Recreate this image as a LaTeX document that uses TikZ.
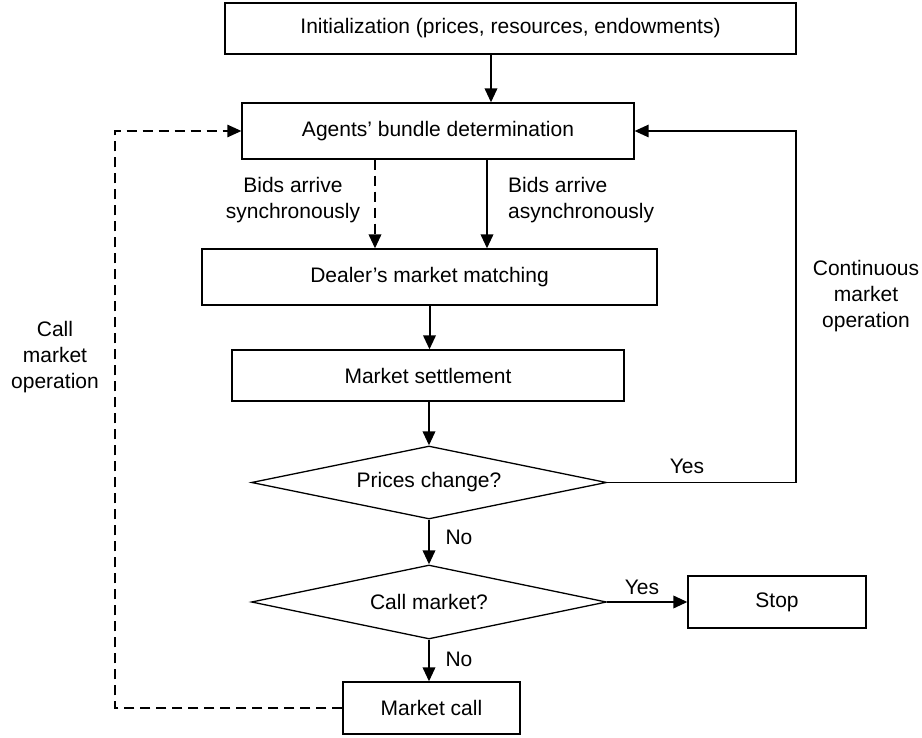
\documentclass[tikz,border=0pt]{standalone}
\usepackage{fontspec}
\setmainfont{Liberation Sans}
\usetikzlibrary{shapes.geometric,arrows.meta}
\begin{document}
\begin{tikzpicture}[x=1pt,y=-1pt,
  font=\fontsize{21}{26}\selectfont,
  box/.style={draw,line width=1.3pt,rectangle,inner sep=0pt},
  dec/.style={draw,line width=1.3pt,diamond,inner sep=0pt,aspect=4.8},
  arr/.style={line width=2pt,-{Triangle[length=14pt,width=12.5pt]}},
  thinarr/.style={line width=1.4pt,-{Triangle[length=14pt,width=12.5pt]}},
  dasharr/.style={line width=2pt,dash pattern=on 10pt off 6pt,-{Triangle[length=14pt,width=12.5pt]}},
  thindasharr/.style={line width=1.3pt,dash pattern=on 10pt off 6pt,-{Triangle[length=14pt,width=12.5pt]}},
  lbl/.style={inner sep=0pt,align=center}]
\useasboundingbox (0,0) rectangle (922,738);
\node[box,minimum width=571pt,minimum height=51pt] (init) at (510.5,28.5) {Initialization (prices, resources, endowments)};
\node[box,minimum width=392pt,minimum height=56pt] (agents) at (438,131) {Agents’ bundle determination};
\node[box,minimum width=455pt,minimum height=56pt] (dealer) at (429.5,277) {Dealer’s market matching};
\node[box,minimum width=392pt,minimum height=51pt] (settle) at (428,375.5) {Market settlement};
\node[dec,minimum width=355pt,minimum height=73pt] (prices) at (429,482.5) {Prices change?};
\node[dec,minimum width=355pt,minimum height=74pt] (call) at (429,602) {Call market?};
\node[box,minimum width=178pt,minimum height=52pt] (stop) at (777,602) {Stop};
\node[box,minimum width=177pt,minimum height=52pt] (mcall) at (431.5,708) {Market call};
\coordinate (cright) at (796,131);
\coordinate (cleft) at (115,131);
% arrows
\draw[arr] ([xshift=-19.5pt]init.south) -- ([xshift=-19.5pt]init.south |- agents.north);
\draw[dasharr] ([xshift=-63pt]agents.south) -- ([xshift=-63pt]agents.south |- dealer.north);
\draw[arr] ([xshift=49pt]agents.south) -- ([xshift=49pt]agents.south |- dealer.north);
\draw[arr] (dealer.south) -- (dealer.south |- settle.north);
\draw[arr] (settle.south -| prices.north) -- (prices.north);
\draw[arr] (prices.south) -- (call.north);
\draw[arr] (call.south) -- (call.south |- mcall.north);
\draw[arr] (call.east) -- (stop.west);
\draw[thinarr] (prices.east) -| (cright) -- (agents.east);
\draw[thindasharr] (mcall.west) -| (cleft) -- (agents.west);
% labels
\node[lbl] (lsync) at (293,200) {Bids arrive\\synchronously};
\node[lbl,align=left,anchor=west] (lasync) at (508,200) {Bids arrive\\asynchronously};
\node[lbl] (lcont) at (866,296) {Continuous\\market\\operation};
\node[lbl] (lcall) at (55,357) {Call\\market\\operation};
\node[lbl] (yes1) at (687,466) {Yes};
\node[lbl] (yes2) at (642,587) {Yes};
\node[lbl] (no1) at (459,537) {No};
\node[lbl] (no2) at (459,659) {No};
\end{tikzpicture}
\end{document}
